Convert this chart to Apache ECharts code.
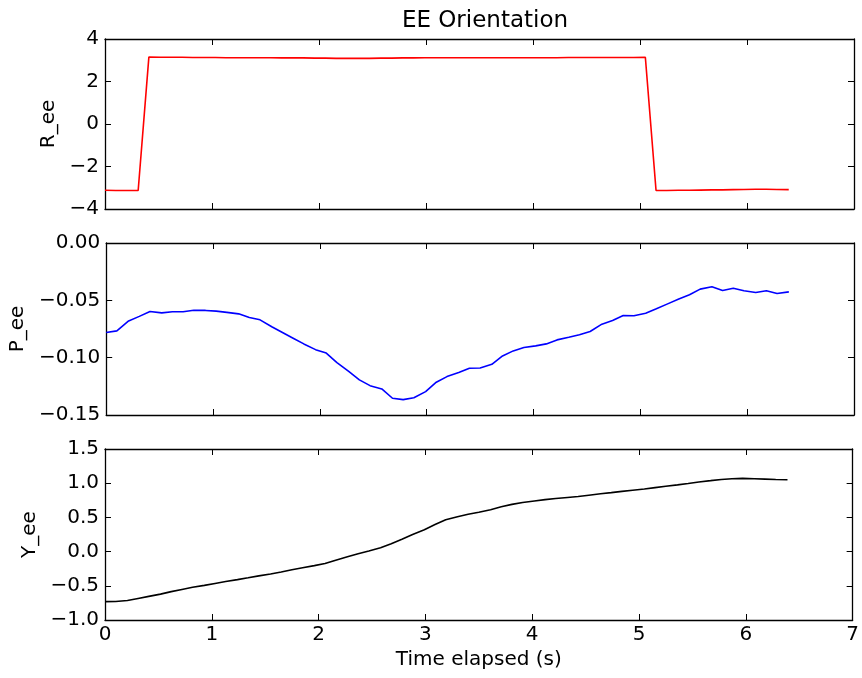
<!DOCTYPE html>
<html>
<head>
<meta charset="utf-8">
<script src="https://cdn.jsdelivr.net/npm/echarts@6/dist/echarts.min.js"></script>
<style>
html,body{margin:0;padding:0;background:#fff;}
#chart{width:862px;height:678px;}
</style>
</head>
<body>
<div id="chart"></div>
<script>
const titleText = 'EE Orientation';
const xLabel = 'Time elapsed (s)';
const yLabels = ['R_ee', 'P_ee', 'Y_ee'];

const time = [0.00,0.10,0.21,0.31,0.41,0.52,0.62,0.72,0.82,0.93,
  1.03,1.13,1.24,1.34,1.44,1.55,1.65,1.75,1.85,1.96,
  2.06,2.16,2.27,2.37,2.47,2.58,2.68,2.78,2.88,2.99,
  3.09,3.19,3.30,3.40,3.50,3.61,3.71,3.81,3.91,4.02,
  4.12,4.22,4.33,4.43,4.53,4.64,4.74,4.84,4.94,5.05,
  5.15,5.25,5.36,5.46,5.56,5.67,5.77,5.87,5.97,6.08,
  6.18,6.28,6.39];

const rEE = [-3.12,-3.13,-3.13,-3.13,3.15,3.14,3.14,3.14,3.13,3.13,
  3.13,3.12,3.12,3.12,3.12,3.12,3.11,3.11,3.11,3.10,
  3.10,3.09,3.09,3.09,3.09,3.10,3.10,3.11,3.11,3.12,
  3.12,3.12,3.12,3.12,3.12,3.12,3.12,3.12,3.12,3.12,
  3.12,3.12,3.13,3.13,3.13,3.13,3.13,3.13,3.13,3.14,
  -3.13,-3.13,-3.12,-3.12,-3.11,-3.10,-3.10,-3.09,-3.08,-3.07,
  -3.07,-3.08,-3.09];

const pEE = [-0.0780,-0.0766,-0.0680,-0.0640,-0.0597,-0.0609,-0.0600,-0.0600,-0.0586,-0.0588,
  -0.0594,-0.0605,-0.0618,-0.0650,-0.0670,-0.0730,-0.0780,-0.0830,-0.0880,-0.0930,
  -0.0960,-0.1043,-0.1120,-0.1194,-0.1244,-0.1273,-0.1354,-0.1366,-0.1349,-0.1296,
  -0.1214,-0.1165,-0.1130,-0.1092,-0.1090,-0.1058,-0.0985,-0.0941,-0.0912,-0.0897,
  -0.0880,-0.0845,-0.0822,-0.0800,-0.0772,-0.0708,-0.0676,-0.0632,-0.0635,-0.0612,
  -0.0574,-0.0533,-0.0489,-0.0452,-0.0402,-0.0382,-0.0414,-0.0394,-0.0417,-0.0431,
  -0.0417,-0.0440,-0.0426];

const yEE = [-0.732,-0.730,-0.715,-0.685,-0.655,-0.622,-0.585,-0.553,-0.522,-0.494,
  -0.466,-0.438,-0.410,-0.383,-0.355,-0.327,-0.297,-0.265,-0.235,-0.205,
  -0.175,-0.125,-0.075,-0.030,0.010,0.055,0.115,0.180,0.250,0.320,
  0.395,0.465,0.510,0.545,0.575,0.612,0.655,0.690,0.718,0.740,
  0.760,0.776,0.792,0.806,0.825,0.845,0.862,0.880,0.898,0.915,
  0.935,0.955,0.975,0.995,1.018,1.037,1.055,1.065,1.070,1.065,
  1.060,1.055,1.050];

const xRange = {min: 0, max: 7, interval: 1};
const yRanges = [
  {min: -4, max: 4, interval: 2, dec: 0},
  {min: -0.15, max: 0, interval: 0.05, dec: 2},
  {min: -1.0, max: 1.5, interval: 0.5, dec: 1}
];
const seriesData = [rEE, pEE, yEE];
const colors = ['#ff0000', '#0000ff', '#000000'];

const FONT = 'DejaVu Sans';
const grids = [
  {left: 105, right: 8, top: 39, height: 170},
  {left: 105, right: 8, top: 243, height: 172},
  {left: 105, right: 8, top: 449, height: 171}
];
const nameGaps = [43, 75, 61];

function fmt(v, dec) {
  if (Math.abs(v) < 1e-9) v = 0;
  return v.toFixed(dec).replace('-', '\u2212');
}

const xAxes = [], yAxes = [], series = [];
grids.forEach((g, i) => {
  const lineStyle = {color: '#000', width: 1.3};
  const tick = {show: true, inside: true, length: 6, lineStyle: {color: '#000', width: 1}};
  xAxes.push({
    type: 'value', gridIndex: i, position: 'bottom',
    min: xRange.min, max: xRange.max, interval: xRange.interval,
    axisLine: {show: true, onZero: false, lineStyle},
    axisTick: tick, splitLine: {show: false},
    axisLabel: {show: i === 2, margin: 5, fontFamily: FONT, fontSize: 20, color: '#000',
      formatter: v => fmt(v, 0)},
    name: i === 2 ? xLabel : '', nameLocation: 'middle', nameGap: 30,
    nameTextStyle: {fontFamily: FONT, fontSize: 20, color: '#000'}
  });
  xAxes.push({
    type: 'value', gridIndex: i, position: 'top',
    min: xRange.min, max: xRange.max, interval: xRange.interval,
    axisLine: {show: true, onZero: false, lineStyle},
    axisTick: tick, splitLine: {show: false}, axisLabel: {show: false}
  });
  const yr = yRanges[i];
  yAxes.push({
    type: 'value', gridIndex: i, position: 'left',
    min: yr.min, max: yr.max, interval: yr.interval,
    axisLine: {show: true, onZero: false, lineStyle},
    axisTick: tick, splitLine: {show: false},
    axisLabel: {margin: 6, fontFamily: FONT, fontSize: 20, color: '#000',
      formatter: v => fmt(v, yr.dec)},
    name: yLabels[i], nameLocation: 'middle', nameGap: nameGaps[i], nameRotate: 90,
    nameTextStyle: {fontFamily: FONT, fontSize: 20, color: '#000'}
  });
  yAxes.push({
    type: 'value', gridIndex: i, position: 'right',
    min: yr.min, max: yr.max, interval: yr.interval,
    axisLine: {show: true, onZero: false, lineStyle},
    axisTick: tick, splitLine: {show: false}, axisLabel: {show: false}
  });
  series.push({
    type: 'line', xAxisIndex: i * 2, yAxisIndex: i * 2,
    data: time.map((t, k) => [t, seriesData[i][k]]),
    showSymbol: false, symbol: 'none', smooth: false,
    lineStyle: {color: colors[i], width: 1.6},
    animation: false
  });
});

const chart = echarts.init(document.getElementById('chart'));
chart.setOption({
  animation: false,
  backgroundColor: '#fff',
  title: {
    text: titleText, left: 480, top: 5, textAlign: 'center',
    textStyle: {fontFamily: FONT, fontSize: 23, fontWeight: 'normal', color: '#000'}
  },
  grid: grids,
  xAxis: xAxes,
  yAxis: yAxes,
  series: series
});
</script>
</body>
</html>
